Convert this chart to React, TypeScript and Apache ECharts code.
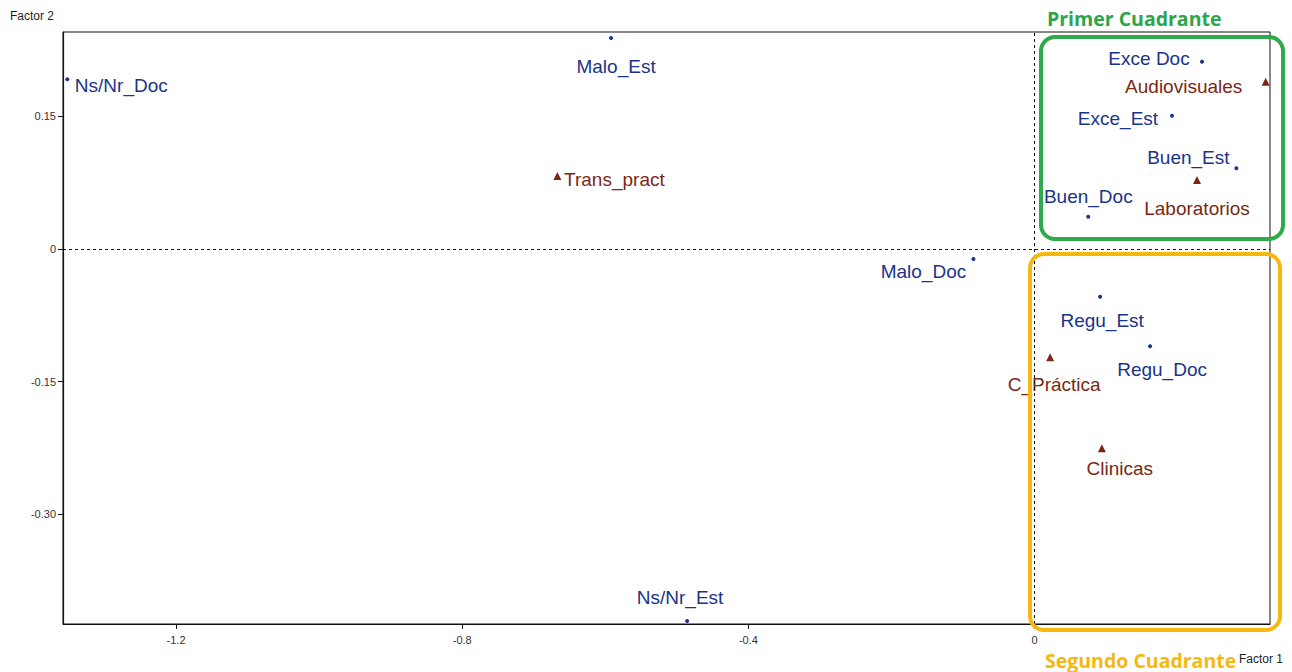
import React, { useEffect, useRef } from "react";
import * as echarts from "echarts";

// Blue series (dots): grades
const dotNames = ["Ns/Nr_Doc", "Malo_Est", "Exce Doc", "Exce_Est", "Buen_Est", "Buen_Doc", "Malo_Doc", "Regu_Est", "Regu_Doc", "Ns/Nr_Est"];
const dotX = [-1.352, -0.592, 0.234, 0.192, 0.282, 0.075, -0.0855, 0.0916, 0.1614, -0.4857];
const dotY = [0.192, 0.2385, 0.2117, 0.1507, 0.0912, 0.0365, -0.0113, -0.0539, -0.11, -0.4205];

// Brown series (triangles): practice places
const triNames = ["Trans_pract", "Audiovisuales", "Laboratorios", "C_Práctica", "Clinicas"];
const triX = [-0.667, 0.323, 0.227, 0.0217, 0.094];
const triY = [0.0825, 0.189, 0.078, -0.1224, -0.2253];

// Tick values
const xTicks = [-1.2, -0.8, -0.4, 0];
const yTicks = [0.15, 0, -0.15, -0.3];

// Label offsets (label centre minus point, in px)
const labelOffset: Record<string, [number, number]> = {
  "Ns/Nr_Doc": [54, 6],
  "Malo_Est": [5, 28],
  "Exce Doc": [-53, -3],
  "Exce_Est": [-54, 3],
  "Buen_Est": [-48, -11],
  "Buen_Doc": [0, -20],
  "Malo_Doc": [-50, 13],
  "Regu_Est": [2, 24],
  "Regu_Doc": [12, 23],
  "Ns/Nr_Est": [-7, -23],
  "Trans_pract": [57, 3],
  "Audiovisuales": [-82, 5],
  "Laboratorios": [0, 28],
  "C_Práctica": [4, 27],
  "Clinicas": [18, 20],
};

const BLUE = "#1a3487";
const BROWN = "#7a2814";
const FONT = "Liberation Sans, Arial, sans-serif";

function mk(names: string[], xs: number[], ys: number[], color: string) {
  return names.map((n, i) => ({
    name: n,
    value: [xs[i], ys[i]],
    label: {
      show: true,
      position: "inside",
      offset: labelOffset[n],
      formatter: n,
      color,
      fontSize: 19,
      fontFamily: FONT,
      align: "center",
      verticalAlign: "middle",
    },
  }));
}

export default function App() {
  const ref = useRef<HTMLDivElement>(null);
  useEffect(() => {
    const chart = echarts.init(ref.current!, undefined, { renderer: "svg" });
    chart.setOption({
      animation: false,
      backgroundColor: "#fff",
      grid: { left: 63, right: 22, top: 32, bottom: 48, show: true, borderColor: "#111", borderWidth: 1 },
      xAxis: {
        type: "value",
        min: -1.358,
        max: 0.329,
        splitLine: { show: false },
        axisLine: { show: true, onZero: false, lineStyle: { color: "#111", width: 1.2 } },
        axisTick: { show: true, customValues: xTicks, length: 5, lineStyle: { color: "#111" } },
        axisLabel: {
          customValues: xTicks,
          formatter: (v: number) => (v === 0 ? "0" : v.toFixed(1)),
          color: "#333",
          fontSize: 11,
          fontFamily: FONT,
          margin: 10,
        },
      },
      yAxis: {
        type: "value",
        min: -0.4239,
        max: 0.2453,
        splitLine: { show: false },
        axisLine: { show: true, onZero: false, lineStyle: { color: "#111", width: 1.2 } },
        axisTick: { show: true, customValues: yTicks, length: 5, lineStyle: { color: "#111" } },
        axisLabel: {
          customValues: yTicks,
          formatter: (v: number) => (v === 0 ? "0" : v.toFixed(2)),
          color: "#333",
          fontSize: 11,
          fontFamily: FONT,
          margin: 7,
        },
      },
      series: [
        {
          type: "scatter",
          symbol: "circle",
          symbolSize: 4,
          itemStyle: { color: BLUE, opacity: 1 },
          data: mk(dotNames, dotX, dotY, BLUE),
          markLine: {
            silent: true,
            symbol: "none",
            label: { show: false },
            lineStyle: { color: "#111", type: [3, 3], width: 1 },
            data: [{ xAxis: 0 }, { yAxis: 0 }],
          },
          z: 3,
        },
        {
          type: "scatter",
          symbol: "triangle",
          symbolSize: 8,
          itemStyle: { color: BROWN, opacity: 1 },
          data: mk(triNames, triX, triY, BROWN),
          z: 3,
        },
      ],
      graphic: [
        {
          type: "rect",
          shape: { x: 1041, y: 37, width: 242, height: 202, r: 14 },
          style: { fill: "none", stroke: "#2eaa4a", lineWidth: 4 },
          z: 10,
        },
        {
          type: "rect",
          shape: { x: 1030, y: 254, width: 250, height: 376, r: 14 },
          style: { fill: "none", stroke: "#f5b810", lineWidth: 4 },
          z: 10,
        },
        {
          type: "text",
          x: 1047,
          y: 18,
          style: { text: "Primer Cuadrante", fill: "#2ca54a", font: "bold 19.5px 'Open Sans', sans-serif", textVerticalAlign: "middle" },
        },
        {
          type: "text",
          x: 1045,
          y: 660,
          style: { text: "Segundo Cuadrante", fill: "#f5b810", font: "bold 19.5px 'Open Sans', sans-serif", textVerticalAlign: "middle" },
        },
        {
          type: "text",
          x: 1239,
          y: 659,
          style: { text: "Factor 1", fill: "#222", font: "12px 'Liberation Sans', Arial, sans-serif", textVerticalAlign: "middle" },
        },
        {
          type: "text",
          x: 10,
          y: 16,
          style: { text: "Factor 2", fill: "#222", font: "12px 'Liberation Sans', Arial, sans-serif", textVerticalAlign: "middle" },
        },
      ],
    });
    return () => chart.dispose();
  }, []);
  return <div ref={ref} style={{ position: "fixed", left: 0, top: 0, width: 1292, height: 672 }} />;
}
